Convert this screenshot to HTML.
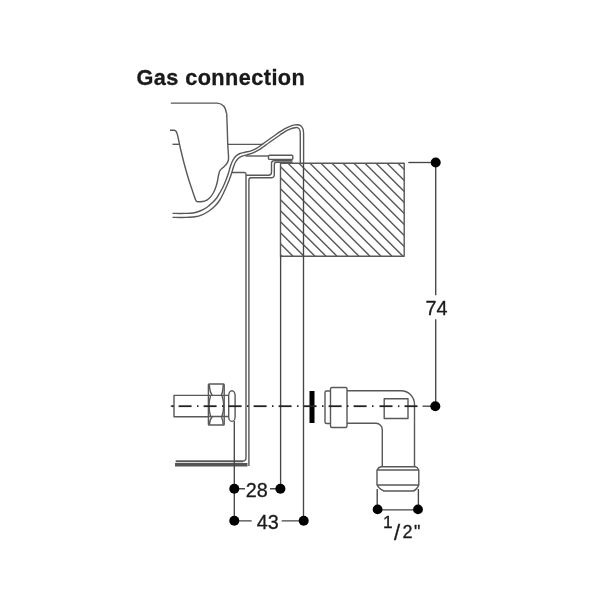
<!DOCTYPE html>
<html><head><meta charset="utf-8"><title>Gas connection</title>
<style>
html,body{margin:0;padding:0;background:#fff;}
body{width:600px;height:600px;overflow:hidden;position:relative;font-family:"Liberation Sans",sans-serif;}
svg{position:absolute;left:0;top:0;will-change:transform;filter:blur(0.45px);}
text{font-family:"Liberation Sans",sans-serif;fill:#1a1a1a;}
.l{fill:none;stroke:#585858;stroke-width:1.4;stroke-linecap:butt;stroke-linejoin:round;}
.t{fill:none;stroke:#464646;stroke-width:1.35;}
.h{fill:none;stroke:#555;stroke-width:1.35;}
.d{fill:#000;}
.n{stroke:#1a1a1a;stroke-width:0.3;}
.c{fill:none;stroke:#222;stroke-width:1.8;}
</style></head><body>
<svg width="600" height="600" viewBox="0 0 600 600">
<defs>
<clipPath id="blk"><rect x="280.5" y="163.3" width="123.7" height="93"/></clipPath>
</defs>
<text x="136.4" y="84.7" font-size="21.7" font-weight="bold" letter-spacing="0.44" fill="#111" stroke="#111" stroke-width="0.3">Gas connection</text>

<!-- burner -->
<path class="l" d="M170.8 103.1 H217.3 Q225.3 103.8 226.5 113.3"/>
<path class="l" d="M226.70 113.30 C226.80 116.08 227.12 124.72 227.30 130.00 C227.48 135.28 227.60 140.67 227.80 145.00 C228.00 149.33 228.42 153.42 228.50 156.00 C228.58 158.58 228.63 159.17 228.30 160.50 C227.97 161.83 227.38 162.83 226.50 164.00 C225.62 165.17 224.08 166.42 223.00 167.50 C221.92 168.58 220.73 169.25 220.00 170.50 C219.27 171.75 219.05 173.08 218.60 175.00 C218.15 176.92 217.82 179.83 217.30 182.00 C216.78 184.17 216.22 186.08 215.50 188.00 C214.78 189.92 214.03 191.80 213.00 193.50 C211.97 195.20 210.72 196.92 209.30 198.20 C207.88 199.48 206.22 200.60 204.50 201.20 C202.78 201.80 199.92 201.70 199.00 201.80"/>
<path class="l" d="M199.00 201.80 C198.72 201.77 197.83 201.85 197.30 201.60 C196.77 201.35 196.60 202.07 195.80 200.30 C195.00 198.53 193.75 194.67 192.50 191.00 C191.25 187.33 189.72 182.97 188.30 178.30 C186.88 173.63 185.25 167.72 184.00 163.00 C182.75 158.28 181.70 153.83 180.80 150.00 C179.90 146.17 179.15 142.50 178.60 140.00 C178.05 137.50 177.90 136.42 177.50 135.00 C177.10 133.58 176.78 132.28 176.20 131.50 C175.62 130.72 175.03 130.50 174.00 130.30 C172.97 130.10 170.67 130.30 170.00 130.30"/>
<path class="l" d="M172.5 144.3 H180"/>
<path class="l" d="M227.8 144.4 H263"/>
<!-- pan sheet -->
<path class="l" d="M172.50 213.40 C174.58 213.40 181.58 213.47 185.00 213.40 C188.42 213.33 190.50 213.40 193.00 213.00 C195.50 212.60 197.72 211.92 200.00 211.00 C202.28 210.08 204.70 208.83 206.70 207.50 C208.70 206.17 210.33 204.58 212.00 203.00 C213.67 201.42 215.37 199.75 216.70 198.00 C218.03 196.25 218.95 194.33 220.00 192.50 C221.05 190.67 222.00 189.08 223.00 187.00 C224.00 184.92 225.08 182.33 226.00 180.00 C226.92 177.67 227.75 175.33 228.50 173.00 C229.25 170.67 229.75 168.17 230.50 166.00 C231.25 163.83 232.08 161.67 233.00 160.00 C233.92 158.33 234.83 157.08 236.00 156.00 C237.17 154.92 238.50 154.13 240.00 153.50 C241.50 152.87 243.17 152.65 245.00 152.20 C246.83 151.75 249.17 151.40 251.00 150.80 C252.83 150.20 254.50 149.40 256.00 148.60 C257.50 147.80 258.50 147.05 260.00 146.00 C261.50 144.95 263.33 143.52 265.00 142.30 C266.67 141.08 268.33 139.88 270.00 138.70 C271.67 137.52 273.33 136.37 275.00 135.20 C276.67 134.03 278.33 132.80 280.00 131.70 C281.67 130.60 283.33 129.50 285.00 128.60 C286.67 127.70 288.33 126.92 290.00 126.30 C291.67 125.68 293.67 125.15 295.00 124.90 C296.33 124.65 297.00 124.62 298.00 124.80 C299.00 124.98 300.20 125.38 301.00 126.00 C301.80 126.62 302.38 127.50 302.80 128.50 C303.22 129.50 303.37 130.08 303.50 132.00 C303.63 133.92 303.58 134.78 303.60 140.00 C303.62 145.22 303.60 159.42 303.60 163.30"/>
<path class="l" d="M172.50 217.40 C174.75 217.40 182.25 217.50 186.00 217.40 C189.75 217.30 192.33 217.23 195.00 216.80 C197.67 216.37 199.67 215.77 202.00 214.80 C204.33 213.83 206.83 212.47 209.00 211.00 C211.17 209.53 213.25 207.75 215.00 206.00 C216.75 204.25 218.17 202.50 219.50 200.50 C220.83 198.50 221.92 196.17 223.00 194.00 C224.08 191.83 225.00 189.75 226.00 187.50 C227.00 185.25 228.08 182.83 229.00 180.50 C229.92 178.17 230.75 175.75 231.50 173.50 C232.25 171.25 232.83 168.92 233.50 167.00 C234.17 165.08 234.67 163.47 235.50 162.00 C236.33 160.53 237.42 159.17 238.50 158.20 C239.58 157.23 240.58 156.77 242.00 156.20 C243.42 155.63 245.17 155.37 247.00 154.80 C248.83 154.23 251.17 153.55 253.00 152.80 C254.83 152.05 256.50 151.13 258.00 150.30 C259.50 149.47 260.83 148.58 262.00 147.80 C263.17 147.02 263.67 146.57 265.00 145.60 C266.33 144.63 268.33 143.18 270.00 142.00 C271.67 140.82 273.33 139.67 275.00 138.50 C276.67 137.33 278.33 136.15 280.00 135.00 C281.67 133.85 283.33 132.58 285.00 131.60 C286.67 130.62 288.33 129.75 290.00 129.10 C291.67 128.45 293.75 127.93 295.00 127.70 C296.25 127.47 296.78 127.48 297.50 127.70 C298.22 127.92 298.85 128.28 299.30 129.00 C299.75 129.72 300.03 130.17 300.20 132.00 C300.37 133.83 300.28 134.78 300.30 140.00 C300.32 145.22 300.30 159.42 300.30 163.30"/>
<path class="l" d="M245.5 156 H268.5"/>
<!-- gasket -->
<rect class="l" x="268.5" y="155.2" width="24.3" height="4.2" rx="1"/>
<!-- sheet metal step + vertical + bottom -->
<path d="M175.8 461.3 H243" style="fill:none;stroke:#666;stroke-width:1.8"/>
<path class="l" d="M175.8 461.2 H242.5 Q246 461.2 246 457.5 V175 Q246.3 172.5 244 172.5 H231.8"/>
<path class="l" d="M246 175.3 H268.5 Q271.5 175.3 271.5 172.3 V163.5 Q271.5 160.8 274 160.8 H292.5"/>
<path d="M175 464.8 H247.5" style="fill:none;stroke:#555;stroke-width:3.4"/>
<path class="l" d="M248.9 466 V180 Q248.9 177.8 251 177.8 H271 Q274.3 177.8 274.3 174.5 V164.5 Q274.3 162.3 276.3 162.3 H292.5"/>
<!-- block -->
<g clip-path="url(#blk)" class="h">
<path d="M156.0 163.3 L249.0 256.3"/>
<path d="M167.0 163.3 L260.0 256.3"/>
<path d="M178.0 163.3 L271.0 256.3"/>
<path d="M189.0 163.3 L282.0 256.3"/>
<path d="M200.0 163.3 L293.0 256.3"/>
<path d="M211.0 163.3 L304.0 256.3"/>
<path d="M222.0 163.3 L315.0 256.3"/>
<path d="M233.0 163.3 L326.0 256.3"/>
<path d="M244.0 163.3 L337.0 256.3"/>
<path d="M255.0 163.3 L348.0 256.3"/>
<path d="M266.0 163.3 L359.0 256.3"/>
<path d="M277.0 163.3 L370.0 256.3"/>
<path d="M288.0 163.3 L381.0 256.3"/>
<path d="M299.0 163.3 L392.0 256.3"/>
<path d="M310.0 163.3 L403.0 256.3"/>
<path d="M321.0 163.3 L414.0 256.3"/>
<path d="M332.0 163.3 L425.0 256.3"/>
<path d="M343.0 163.3 L436.0 256.3"/>
<path d="M354.0 163.3 L447.0 256.3"/>
<path d="M365.0 163.3 L458.0 256.3"/>
<path d="M376.0 163.3 L469.0 256.3"/>
<path d="M387.0 163.3 L480.0 256.3"/>
<path d="M398.0 163.3 L491.0 256.3"/>
<path d="M409.0 163.3 L502.0 256.3"/>
</g>
<rect class="l" x="280.5" y="163.3" width="123.7" height="93"/>
<!-- dimension lines -->
<path class="t" d="M280.6 256 V488.7"/>
<path class="t" d="M303.5 163.3 V520.8"/>
<path class="t" d="M234.3 421 V520.8"/>
<path class="t" d="M408.3 162.5 H431"/>
<path class="t" d="M422.5 406.2 H431"/>
<path class="t" d="M435.7 162.5 V295.3 M435.7 319.3 V406"/>
<path class="t" d="M239 488.7 H245 M270 488.7 H276"/>
<path class="t" d="M239 520.8 H251.7 M281.7 520.8 H299"/>
<path class="t" d="M377.2 489 V509.5 M418.4 489 V509.5 M378 509.8 H418"/>
<circle class="d" cx="435.7" cy="162.5" r="5"/>
<circle class="d" cx="435.3" cy="406.2" r="5"/>
<circle class="d" cx="234.3" cy="488.7" r="5"/>
<circle class="d" cx="280.4" cy="488.7" r="5"/>
<circle class="d" cx="234.3" cy="520.8" r="5"/>
<circle class="d" cx="303.7" cy="520.8" r="5"/>
<circle class="d" cx="377.6" cy="509.4" r="4.9"/>
<circle class="d" cx="418" cy="509.4" r="4.9"/>
<!-- bolt -->
<path class="l" d="M208.4 395.4 H174 V416.8 H208.4"/>
<path class="t" d="M170.8 406.1 H174"/>
<rect class="l" x="208.4" y="384" width="15.8" height="41" rx="0.8"/>
<path class="l" d="M208.4 395.4 H228.7 M208.4 416.5 H228.7"/>
<path class="l" d="M209.3 384.4 Q209.8 392.8 212.4 395.4 M223.3 384.4 Q222.8 392.8 221.2 395.4"/>
<path class="l" d="M209.3 424.6 Q209.8 419.2 212.4 416.5 M223.3 424.6 Q222.8 419.2 221.2 416.5"/>
<path class="l" d="M210.6 395.6 Q207.4 406 210.6 416.3 M222 395.6 Q225.4 406 222 416.3"/>
<rect class="l" x="228.7" y="390.7" width="6.4" height="30.7" rx="3.2" ry="5"/>
<!-- thick bar -->
<rect x="309.5" y="391" width="5" height="32" fill="#000"/>
<!-- elbow -->
<rect class="l" x="325" y="391" width="7" height="32.5" rx="1.5"/>
<rect class="l" x="330.5" y="387.5" width="16.5" height="40" rx="1.5" style="fill:#fff"/>
<path class="l" d="M347 390.8 H401 A13.5 13.5 0 0 1 414.5 404.3 V466.8"/>
<path class="l" d="M347 423.3 H376 A6.3 6.3 0 0 1 382.3 429.6 V466.8"/>
<rect class="l" x="384.2" y="398.8" width="23.8" height="19.7"/>
<path class="l" d="M381 466.8 H415.5 Q417.5 467.2 418.8 470 V485 Q417 489.5 413.5 491 H384 Q379.5 489.5 377 485 V470 Q378.5 467.2 381 466.8 Z"/>
<path class="l" d="M377 470 H418.8 M377 485 H418.8"/>
<!-- centre line -->
<g class="c">
<path d="M171.8 406.2 H173.3"/>
<path d="M178.6 406.2 H191.6"/>
<path d="M197.0 406.2 H198.5"/>
<path d="M203.6 406.2 H216.6"/>
<path d="M222.0 406.2 H223.5"/>
<path d="M228.6 406.2 H241.6"/>
<path d="M247.0 406.2 H248.5"/>
<path d="M253.6 406.2 H266.6"/>
<path d="M272.0 406.2 H273.5"/>
<path d="M278.6 406.2 H291.6"/>
<path d="M297.0 406.2 H298.5"/>
<path d="M303.6 406.2 H316.6"/>
<path d="M322.0 406.2 H323.5"/>
<path d="M328.6 406.2 H341.6"/>
<path d="M347.0 406.2 H348.5"/>
<path d="M353.6 406.2 H366.6"/>
<path d="M372.0 406.2 H373.5"/>
<path d="M379.5 406.2 H392.5"/>
<path d="M397.9 406.2 H399.4"/>
<path d="M404.5 406.2 H417.5"/>
</g>
<text x="425.5" y="314.8" font-size="19.8" class="n">74</text>
<text x="245.8" y="496.6" font-size="19.8" class="n">28</text>
<text x="256.8" y="528.6" font-size="19.8" class="n">43</text>
<text x="383" y="528" font-size="17.3" class="n">1</text>
<text x="394" y="540.3" font-size="22" class="n">/</text>
<text x="402.6" y="538" font-size="18" class="n">2</text>
<text x="414" y="538" font-size="18" class="n">"</text>
</svg>
</body></html>
